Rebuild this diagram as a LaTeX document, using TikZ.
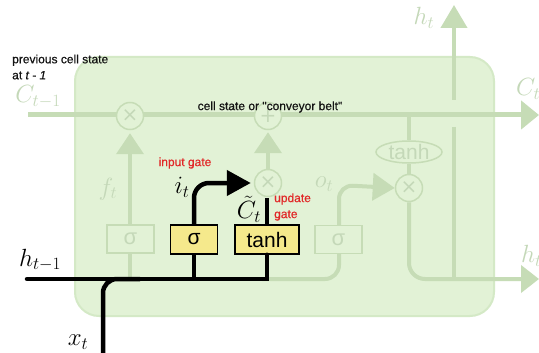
\documentclass[tikz,border=0pt]{standalone}
\usepackage{fontspec}
\newfontfamily\lsans{Liberation Sans}
\newfontfamily\lsansb[FakeBold=0.6]{Liberation Sans}
\newfontfamily\dsans{DejaVu Sans}
\usetikzlibrary{arrows.meta,shapes.geometric}
\definecolor{bgfill}{RGB}{226,242,214}
\definecolor{bgedge}{RGB}{212,233,198}
\definecolor{palec}{RGB}{198,220,182}
\definecolor{paletext}{RGB}{196,216,184}
\definecolor{yellowc}{RGB}{245,233,140}
\definecolor{redc}{RGB}{225,40,40}
\definecolor{txtc}{RGB}{20,20,20}
\pgfdeclarelayer{back}
\pgfdeclarelayer{lines}
\pgfsetlayers{back,lines,main}
\tikzset{
  pale/.style={draw=palec, line width=4pt},
  parrow/.style={-{Triangle[length=21pt,width=27pt]}},
  blk/.style={draw=black, line width=4.5pt},
  circ/.style={circle, draw=palec, line width=1.5pt, fill=bgfill, minimum size=27pt, inner sep=0pt, text=paletext, font=\dsans\fontsize{20}{20}\selectfont},
  ell/.style={ellipse, draw=palec, line width=1.5pt, fill=bgfill, minimum width=66pt, minimum height=22pt, inner sep=0pt, text=paletext, font=\lsans\fontsize{21}{21}\selectfont},
  pbox/.style={rectangle, draw=palec, line width=1.5pt, fill=bgfill, minimum width=47pt, minimum height=28pt, inner sep=0pt, text=paletext, font=\lsans\fontsize{22}{22}\selectfont},
  ybox/.style={rectangle, draw=black, line width=1.5pt, fill=yellowc, minimum height=29pt, inner sep=0pt, font=\lsans\fontsize{21}{21}\selectfont},
  ptxt/.style={text=paletext, inner sep=0pt, font=\fontsize{24}{26}\selectfont},
  mtxt/.style={text=black, inner sep=0pt, font=\fontsize{24}{26}\selectfont},
  note/.style={text=txtc, inner sep=0pt, font=\lsansb\fontsize{12}{16}\selectfont},
  rnote/.style={text=redc, inner sep=0pt, font=\lsansb\fontsize{12}{16}\selectfont},
}
\begin{document}
\begin{tikzpicture}[x=1pt,y=-1pt]
\useasboundingbox (0,0) rectangle (539,353);

% cell body
\begin{pgfonlayer}{back}
\fill[white] (0,0) rectangle (539,353);
\node[rectangle, draw=bgedge, line width=2pt, fill=bgfill, rounded corners=24pt,
      minimum width=419pt, minimum height=259pt] (cell) at (284.5,186.5) {};
\end{pgfonlayer}

% pale operation nodes
\node[circ] (fx) at (130,116) {×};
\node[circ] (plus) at (268,116) {+};
\node[circ] (ix) at (268,183) {×};
\node[circ] (ox) at (409,188) {×};
\node[ell] (tc) at (409,152) {tanh};
\node[pbox] (sf) at (130.5,239) {σ};
\node[pbox] (so) at (338.5,239.5) {σ};

% yellow highlighted layers
\node[ybox, minimum width=47pt] (si) at (194,239.5) {σ};
\node[ybox, minimum width=64pt] (tt) at (267,239.5) {tanh};

% coordinates
\coordinate (cin) at (28,115);
\coordinate (cout) at (539,115);
\coordinate (busf) at (130,279);
\coordinate (tanhtop) at (409,115);
\coordinate (hout) at (539,279);
\coordinate (vtop) at (454,127);
\coordinate (vbot) at (454,279);
\coordinate (htop) at (454,100);
\coordinate (htip) at (454,5);
\coordinate (obus) at (262,279);
\coordinate (ocorner) at (339,279);
\coordinate (oup) at (339,185);
\coordinate (hin) at (27,279);
\coordinate (ctop) at (267,198);
\coordinate (xin) at (103,360);
\coordinate (xjoin) at (140,279);
\coordinate (sibus) at (194,279);

% pale connectors
\begin{pgfonlayer}{lines}
\draw[pale, line width=5pt, -{Triangle[length=18pt,width=28pt]}] (cin) -- (cout);
\draw[pale, parrow, shorten >=3pt] (busf) -- (fx);
\draw[pale, parrow, shorten >=2pt] (ix) -- (plus);
\draw[pale] (tanhtop) -- (tc);
\draw[pale] (tc) -- (ox);
\draw[pale, rounded corners=16pt, -{Triangle[length=18pt,width=27pt]}] (ox.south) |- (hout);
\draw[pale] (vtop) -- (vbot);
\draw[pale, -{Triangle[length=23pt,width=26pt]}] (htop) -- (htip);
\draw[pale, rounded corners=14pt, -{Triangle[length=22pt,width=27pt]}] (obus) -- (ocorner) -- (oup) -- (ox.west);
\end{pgfonlayer}

% black connectors
\draw[blk, line cap=round] (hin) -| (tt.south);
\draw[blk] (tt.north) -- (ctop);
\draw[blk, rounded corners=14pt] (xin) |- (xjoin);
\draw[blk] (sibus) -- (si.south);
\draw[blk, rounded corners=15pt, shorten >=3pt, -{Triangle[length=24pt,width=25pt]}] (si.north) |- (ix.west);

% pale labels
\node[ptxt] (clab) at (38,97) {$C_{t-1}$};
\node[ptxt] (flab) at (108,189) {$f_t$};
\node[ptxt] (olab) at (324,184) {$o_t$};
\node[ptxt] (htl) at (424,18) {$h_t$};
\node[ptxt, anchor=west] (ctl) at (516,89) {$C_t$};
\node[ptxt, anchor=west] (hrl) at (521,256) {$h_t$};

% black labels
\node[mtxt] (hprev) at (40,260) {$h_{t-1}$};
\node[mtxt] (xl) at (78,342) {$x_t$};
\node[mtxt] (il) at (182,187) {$i_t$};
\node[mtxt] (ctil) at (249,209) {$\tilde{C}_t$};

% annotations
\node[note, anchor=west, align=left] (prev) at (12,67) {previous cell state\\at \textit{t - 1}};
\node[note] (belt) at (270,107) {cell state or "conveyor belt"};
\node[rnote] (ig) at (185,163) {input gate};
\node[rnote, anchor=west, align=left] (ug) at (274,207) {update\\gate};
\end{tikzpicture}
\end{document}
